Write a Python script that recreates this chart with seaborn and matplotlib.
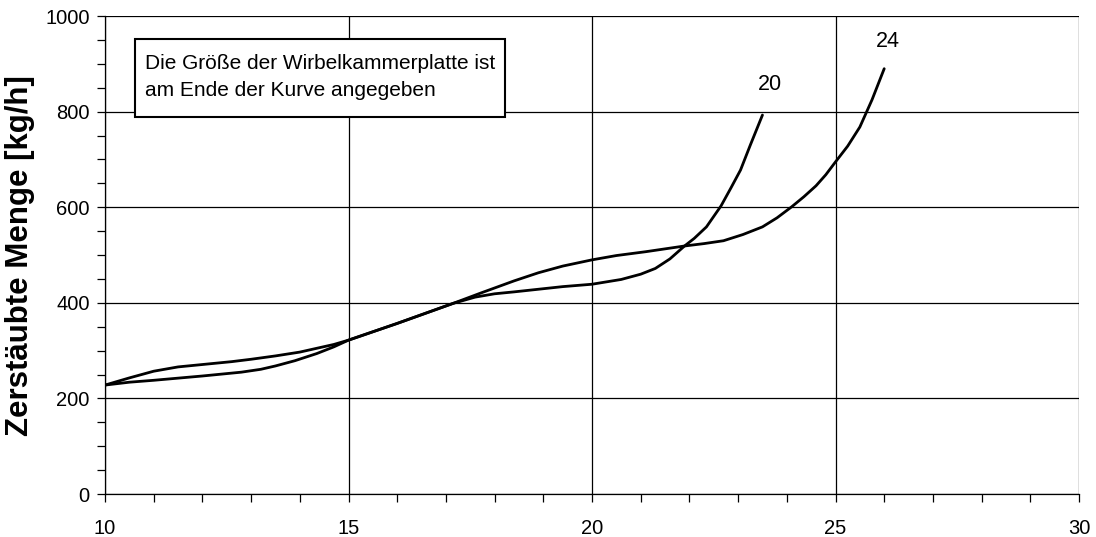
import seaborn as sns
import matplotlib.pyplot as plt
import pandas as pd
from matplotlib.ticker import MultipleLocator
from matplotlib.patches import Rectangle

# Curve data (plate size at end of curve)
x_20 = [10, 10.5, 11, 12, 12.8, 13.2, 13.5, 13.9, 14.35, 14.7, 15, 16, 17.15, 17.6, 18.0, 18.4,
        19.4, 20, 20.6, 21.0, 21.3, 21.6, 21.9, 22.1, 22.35, 22.65, 22.85, 23.05, 23.25, 23.5]
y_20 = [228, 234, 238, 247, 255, 261, 268, 279, 294, 308, 322, 357, 399, 412, 419, 423,
        434, 439, 449, 460, 472, 492, 519, 535, 559, 603, 640, 678, 730, 793]

x_24 = [10, 10.5, 11, 11.5, 12, 12.6, 13, 13.5, 14, 14.35, 14.7, 15, 16, 17.15, 17.7, 18.4, 18.9,
        19.4, 20, 20.5, 21.1, 21.9, 22.3, 22.7, 23.1, 23.5, 23.8, 24.1, 24.35, 24.6, 24.8, 25,
        25.25, 25.5, 25.75, 26]
y_24 = [228, 243, 257, 266, 271, 277, 282, 289, 297, 305, 313, 322, 357, 399, 420, 446, 463,
        477, 490, 499, 507, 519, 524, 530, 543, 559, 578, 601, 622, 645, 668, 695,
        728, 768, 825, 890]

labels = ["20", "24"]

df = pd.concat([
    pd.DataFrame({"x": x_20, "y": y_20, "platte": "20"}),
    pd.DataFrame({"x": x_24, "y": y_24, "platte": "24"}),
])

sns.set_style("ticks")
plt.rcParams['font.family'] = ['Liberation Sans', 'DejaVu Sans']
plt.rcParams['text.color'] = 'black'
plt.rcParams['axes.labelcolor'] = 'black'
plt.rcParams['xtick.color'] = 'black'
plt.rcParams['ytick.color'] = 'black'

fig = plt.figure(figsize=(10.96, 5.37), dpi=100)
ax = fig.add_axes([0.0958, 0.080, 0.8887, 0.890])

sns.lineplot(data=df, x="x", y="y", units="platte", estimator=None,
             color="black", linewidth=2.0, sort=False, ax=ax)

ax.set_xlim(10, 30)
ax.set_ylim(0, 1000)
ax.xaxis.set_major_locator(MultipleLocator(5))
ax.xaxis.set_minor_locator(MultipleLocator(1))
ax.yaxis.set_major_locator(MultipleLocator(200))
ax.yaxis.set_minor_locator(MultipleLocator(50))
ax.grid(True, which="major", color="black", linewidth=0.9)
ax.tick_params(which="both", direction="out", length=6, width=0.9, color="black")
ax.tick_params(axis="x", labelsize=14.5, pad=12)
ax.tick_params(axis="y", labelsize=14.5, pad=5)
for s in ["top", "right"]:
    ax.spines[s].set_visible(False)
for s in ["left", "bottom"]:
    ax.spines[s].set_color("black")
    ax.spines[s].set_linewidth(0.9)

ax.set_xlabel("")
ax.set_ylabel("Zerstäubte Menge [kg/h]", fontsize=22.5, fontweight="bold")
ax.yaxis.set_label_coords(-0.072, 0.5)

# end-of-curve labels
ax.text(x_20[-1] + 0.15, 856, labels[0], fontsize=15.5, ha="center", va="center")
ax.text(x_24[-1] + 0.08, 946, labels[1], fontsize=15.5, ha="center", va="center")

# note box
ax.add_patch(Rectangle((0.0308, 0.7887), 0.38, 0.1632, transform=ax.transAxes,
                       facecolor="white", edgecolor="black", linewidth=1.5, zorder=5))
ax.text(0.041, 0.8724, "Die Größe der Wirbelkammerplatte ist\nam Ende der Kurve angegeben",
        transform=ax.transAxes, fontsize=15, va="center", ha="left", linespacing=1.55, zorder=6)

fig.savefig("out.png", dpi=100)
